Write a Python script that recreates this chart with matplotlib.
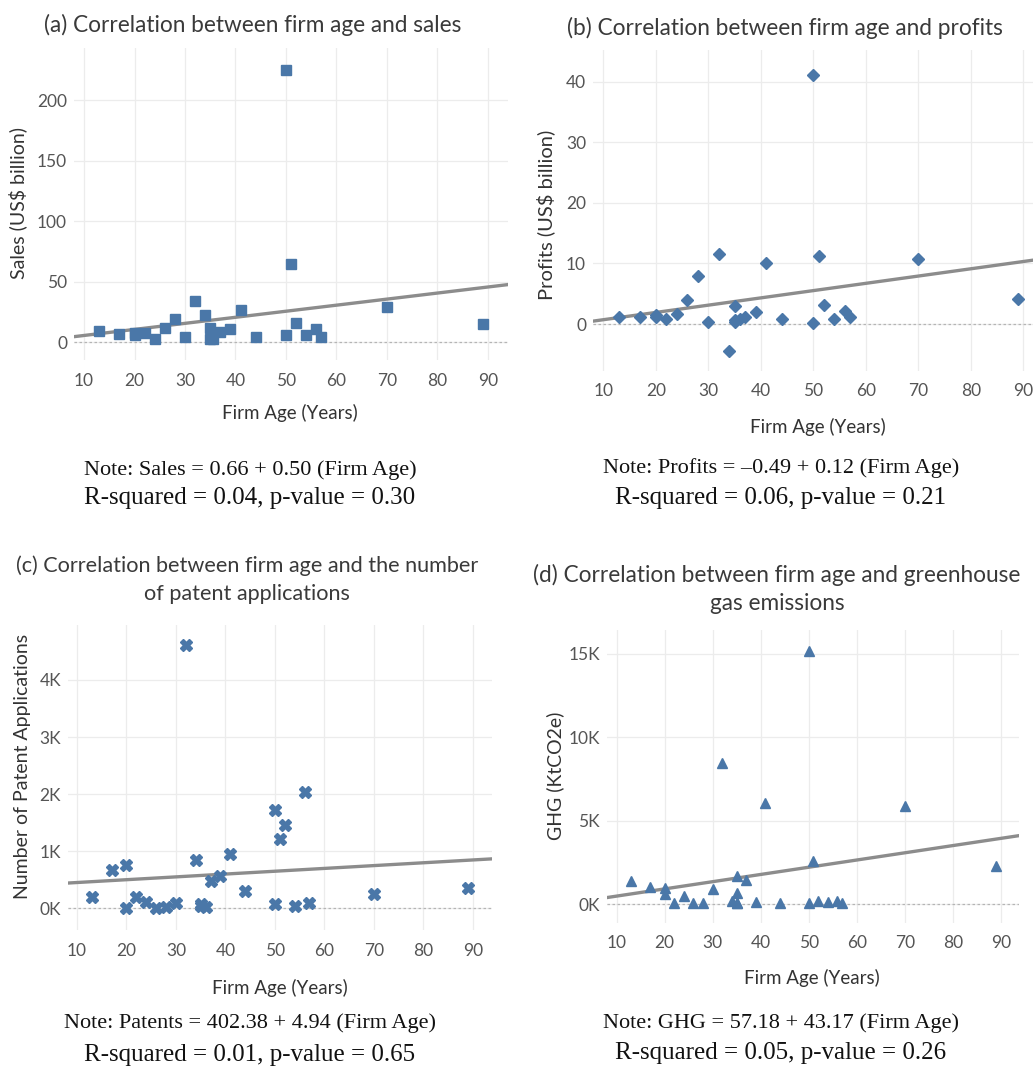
import numpy as np
import matplotlib.pyplot as plt
from matplotlib.ticker import FuncFormatter

W, H = 1033, 1066
SANS = 'Lato'
SERIF = 'Liberation Serif'
BLUE = '#4a77a8'

# (a) sales
sales_age = [13, 17, 20, 20, 22, 24, 26, 28, 30, 32, 34, 35, 35, 35.5, 37, 39,
             41, 44, 50, 50, 51, 52, 54, 56, 57, 70, 89]
sales = [9.6, 6.9, 7.5, 6.0, 8.0, 2.5, 11.8, 19.5, 4.4, 34.0, 22.6, 11.6, 3.0,
         2.5, 8.5, 11.0, 26.4, 4.4, 225.0, 6.0, 64.5, 16.3, 6.0, 11.3, 4.4, 29.2, 15.4]

# (b) profits
profit_age = [13, 17, 20, 20, 22, 24, 26, 28, 30, 32, 34, 35, 35, 35, 36, 37,
              39, 41, 44, 50, 50, 51, 52, 54, 56, 57, 70, 89]
profits = [1.1, 1.1, 1.5, 1.1, 0.9, 1.6, 3.9, 8.0, 0.4, 11.6, -4.5, 3.0, 0.7,
           0.4, 0.9, 1.2, 2.0, 10.1, 0.9, 41.0, 0.2, 11.2, 3.1, 0.9, 2.1, 1.1, 10.8, 4.1]

# (c) patents
patent_age = [13, 17, 20, 20, 22, 24, 26, 28, 30, 32, 34, 35, 35, 36, 37, 39,
              41, 44, 50, 50, 51, 52, 54, 56, 57, 70, 89]
patents = [204, 672, 759, 12, 204, 117, 12, 29, 88, 4613, 847, 76, 41, 18, 479,
           566, 946, 310, 1723, 70, 1209, 1466, 47, 2044, 99, 245, 350]

# (d) greenhouse gas
ghg_age = [13, 17, 20, 20, 22, 24, 26, 28, 30, 32, 34, 35, 35, 35, 35, 37, 39,
           41, 44, 50, 50, 51, 52, 54, 56, 57, 70, 89]
ghg = [1396, 1057, 957, 598, 60, 500, 60, 60, 917, 8478, 200, 1695, 658, 100,
       100, 1476, 160, 6084, 60, 15140, 60, 2593, 219, 120, 200, 60, 5900, 2294]

# regression coefficients from the notes (intercept, slope)
fit_sales = (0.66, 0.50)
fit_profits = (-0.49, 0.12)
fit_patents = (402.38, 4.94)
fit_ghg = (57.18, 43.17)


def fx(x):
    return x / W


def fy(y):
    return 1 - y / H


def panel(box, ages, vals, fit, marker, msize, xlim, ylim, yticks, kfmt):
    x0, y0, x1, y1 = box
    ax = fig.add_axes([fx(x0), fy(y1), (x1 - x0) / W, (y1 - y0) / H])
    for s in ax.spines.values():
        s.set_visible(False)
    ax.set_xlim(xlim)
    ax.set_ylim(ylim)
    ax.set_xticks(range(10, 100, 10))
    ax.set_yticks(yticks)
    if kfmt:
        ax.yaxis.set_major_formatter(FuncFormatter(lambda v, p: '%dK' % (v / 1000)))
    ax.grid(True, color='#ececec', lw=0.9)
    ax.set_axisbelow(True)
    ax.tick_params(length=0, labelsize=12.5, labelcolor='#555555')
    ax.tick_params(axis='x', pad=9)
    ax.tick_params(axis='y', pad=5)
    for lab in ax.get_xticklabels() + ax.get_yticklabels():
        lab.set_family(SANS)
    ax.axhline(0, color='#b5b5b5', lw=0.9, ls=(0, (2, 2)), zorder=1)
    xs = np.array(xlim)
    ax.plot(xs, fit[0] + fit[1] * xs, color='#8c8c8c', lw=2.4, zorder=2)
    ax.plot(ages, vals, marker, color=BLUE, ms=msize, mec=BLUE, ls='none', zorder=3)
    return ax


fig = plt.figure(figsize=(W / 100, H / 100), dpi=100)

panel((74, 48, 508, 360), sales_age, sales, fit_sales, 's', 7.5,
      (8, 94), (-14.6, 243), [0, 50, 100, 150, 200], False)
panel((593, 50, 1033, 371), profit_age, profits, fit_profits, 'D', 6,
      (8.04, 91.85), (-7.75, 45.2), [0, 10, 20, 30, 40], False)
panel((68, 625, 492, 930), patent_age, patents, fit_patents, 'X', 8,
      (8.18, 93.9), (-380, 4963), [0, 1000, 2000, 3000, 4000], True)
panel((607, 630, 1019, 923), ghg_age, ghg, fit_ghg, '^', 7.5,
      (8.0, 93.8), (-1120, 16410), [0, 5000, 10000, 15000], True)

tcol = '#3a3a3a'
fig.text(fx(253), fy(25), '(a) Correlation between firm age and sales',
         ha='center', va='center', fontsize=16.3, color=tcol, family=SANS)
fig.text(fx(785), fy(28), '(b) Correlation between firm age and profits',
         ha='center', va='center', fontsize=16.3, color=tcol, family=SANS)
fig.text(fx(247), fy(580), '(c) Correlation between firm age and the number\nof patent applications',
         ha='center', va='center', fontsize=15.6, color=tcol, family=SANS, linespacing=1.5)
fig.text(fx(777), fy(589), '(d) Correlation between firm age and greenhouse\ngas emissions',
         ha='center', va='center', fontsize=16.3, color=tcol, family=SANS, linespacing=1.45)

# axis labels
lcol = '#333333'
fig.text(fx(18), fy(203), 'Sales (US$ billion)', rotation=90, ha='center', va='center',
         fontsize=14, color=lcol, family=SANS)
fig.text(fx(546), fy(215), 'Profits (US$ billion)', rotation=90, ha='center', va='center',
         fontsize=14.5, color=lcol, family=SANS)
fig.text(fx(23), fy(766), 'Number of Patent Applications', rotation=90, ha='center', va='center',
         fontsize=14, color=lcol, family=SANS)
fig.text(fx(555), fy(776), 'GHG (KtCO2e)', rotation=90, ha='center', va='center',
         fontsize=14, color=lcol, family=SANS)

for x, y in [(290, 413), (818, 427), (280, 988), (812, 978)]:
    fig.text(fx(x), fy(y), 'Firm Age (Years)', ha='center', va='center',
             fontsize=13.5, color=lcol, family=SANS)

# notes
notes = [
    (250, 470, 498, 'Note: Sales = 0.66 + 0.50 (Firm Age)', 'R-squared = 0.04, p-value = 0.30'),
    (781, 468, 498, 'Note: Profits = \u20130.49 + 0.12 (Firm Age)', 'R-squared = 0.06, p-value = 0.21'),
    (250, 1023, 1055, 'Note: Patents = 402.38 + 4.94 (Firm Age)', 'R-squared = 0.01, p-value = 0.65'),
    (781, 1023, 1053, 'Note: GHG = 57.18 + 43.17 (Firm Age)', 'R-squared = 0.05, p-value = 0.26'),
]
for x, y1, y2, l1, l2 in notes:
    fig.text(fx(x), fy(y1), l1, ha='center', va='center', fontsize=16, color='#111111', family=SERIF)
    fig.text(fx(x), fy(y2), l2, ha='center', va='center', fontsize=18, color='#111111', family=SERIF)

fig.savefig('out.png', dpi=100, facecolor='white')
